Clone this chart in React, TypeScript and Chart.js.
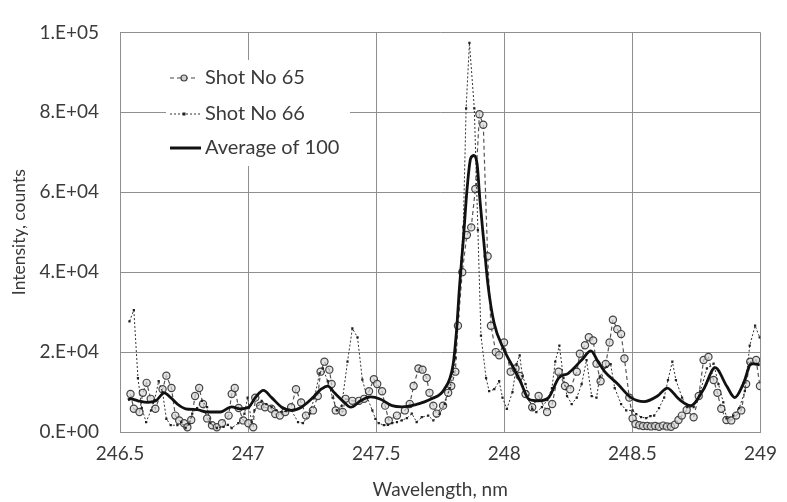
import React, { useEffect, useRef } from "react";
import { Chart, registerables } from "chart.js";

Chart.register(...registerables);

// ---- Data ----
const shot65Wavelength = [
  246.541, 246.554, 246.576, 246.589, 246.604, 246.620, 246.638, 246.666, 246.681, 246.701,
  246.716, 246.731, 246.750, 246.763, 246.778, 246.793, 246.809, 246.824, 246.840, 246.859,
  246.878, 246.898, 246.924, 246.936, 246.948, 246.963, 246.981, 247.001, 247.020, 247.028,
  247.047, 247.066, 247.091, 247.106, 247.124, 247.145, 247.168, 247.187, 247.207, 247.226,
  247.253, 247.272, 247.283, 247.298, 247.317, 247.326, 247.342, 247.369, 247.380, 247.407,
  247.433, 247.453, 247.472, 247.491, 247.504, 247.523, 247.535, 247.549, 247.581, 247.612,
  247.631, 247.646, 247.665, 247.681, 247.697, 247.708, 247.723, 247.736, 247.761, 247.781,
  247.793, 247.809, 247.819, 247.836, 247.854, 247.871, 247.887, 247.903, 247.918, 247.935,
  247.948, 247.967, 247.980, 247.999, 248.025, 248.044, 248.060, 248.083, 248.109, 248.134,
  248.167, 248.187, 248.212, 248.237, 248.257, 248.283, 248.295, 248.315, 248.330, 248.347,
  248.360, 248.376, 248.396, 248.411, 248.424, 248.441, 248.456, 248.469, 248.488, 248.501,
  248.512, 248.527, 248.542, 248.558, 248.573, 248.589, 248.604, 248.620, 248.635, 248.651,
  248.666, 248.680, 248.693, 248.712, 248.739, 248.759, 248.778, 248.797, 248.817, 248.832,
  248.847, 248.867, 248.886, 248.905, 248.925, 248.944, 248.960, 248.983, 248.998,
];
const shot65Counts = [
  9500, 5800, 5000, 9800, 12300, 8300, 5800, 10700, 14100, 11000,
  4100, 2900, 2200, 1200, 3000, 9000, 11000, 7000, 3400, 1700,
  1200, 2200, 4100, 9500, 11000, 6000, 2900, 2200, 1200, 8600,
  6600, 6200, 5800, 4500, 4100, 5000, 6200, 10700, 7400, 4100,
  5400, 9000, 15100, 17600, 15600, 12000, 5400, 5000, 8300, 7800,
  7800, 8300, 10200, 13200, 12000, 10200, 6600, 2900, 4100, 5400,
  7000, 11500, 15900, 15600, 13500, 9800, 6600, 4600, 6600, 9800,
  11500, 15100, 26600, 40000, 49300, 51200, 60800, 79500, 76900, 44000,
  26600, 20000, 19200, 22400, 15100, 15900, 14000, 9500, 6200, 9000,
  5000, 7000, 15100, 11500, 10700, 15100, 19600, 21700, 23700, 22900,
  17100, 12700, 17000, 22400, 28100, 25700, 24500, 18400, 8600, 3400,
  2000, 1700, 1500, 1500, 1400, 1500, 1300, 1600, 1400, 1300,
  1800, 3000, 4100, 5500, 3700, 9000, 18000, 18800, 13000, 9800,
  5800, 3000, 2900, 4100, 5400, 12000, 17600, 18000, 11500,
];

const shot66Wavelength = [
  246.537, 246.554, 246.570, 246.585, 246.602, 246.621, 246.635, 246.651, 246.666, 246.681,
  246.698, 246.724, 246.739, 246.756, 246.770, 246.782, 246.801, 246.820, 246.840, 246.853,
  246.878, 246.904, 246.921, 246.936, 246.962, 246.986, 246.998, 247.014, 247.025, 247.053,
  247.071, 247.092, 247.110, 247.131, 247.149, 247.169, 247.195, 247.214, 247.240, 247.259,
  247.279, 247.292, 247.311, 247.330, 247.347, 247.365, 247.388, 247.407, 247.427, 247.446,
  247.465, 247.485, 247.497, 247.510, 247.530, 247.546, 247.562, 247.581, 247.600, 247.620,
  247.639, 247.658, 247.678, 247.703, 247.723, 247.748, 247.768, 247.787, 247.800, 247.809,
  247.820, 247.828, 247.840, 247.851, 247.864, 247.883, 247.897, 247.909, 247.929, 247.941,
  247.961, 247.980, 247.993, 248.010, 248.032, 248.048, 248.060, 248.071, 248.083, 248.109,
  248.125, 248.147, 248.168, 248.186, 248.199, 248.215, 248.231, 248.245, 248.263, 248.283,
  248.302, 248.321, 248.341, 248.360, 248.373, 248.399, 248.415, 248.431, 248.456, 248.476,
  248.501, 248.515, 248.534, 248.554, 248.570, 248.585, 248.604, 248.624, 248.639, 248.656,
  248.670, 248.694, 248.714, 248.739, 248.765, 248.791, 248.817, 248.836, 248.855, 248.868,
  248.894, 248.917, 248.939, 248.958, 248.979, 248.997,
];
const shot66Counts = [
  27700, 30500, 13500, 6000, 2500, 5400, 8000, 12700, 10000, 3300,
  1700, 1700, 2500, 1000, 2000, 4600, 6000, 7800, 6200, 2200,
  1000, 1300, 1800, 1000, 2200, 4600, 8600, 2500, 5400, 7800,
  7000, 6200, 5500, 5000, 5200, 5400, 2500, 2200, 4600, 8600,
  14700, 15900, 12700, 8600, 5400, 6500, 17600, 25900, 23700, 13100,
  8600, 5400, 3300, 2200, 1700, 1800, 2200, 2500, 2900, 3500,
  4600, 2500, 3700, 4100, 2900, 4600, 7000, 11000, 15100, 18500,
  29000, 40000, 51300, 81000, 97400, 81000, 50500, 24100, 13500, 10200,
  10700, 12700, 8600, 5800, 10000, 17000, 19200, 14000, 12000, 5800,
  5000, 6200, 8000, 11000, 17600, 21600, 13500, 9000, 7000, 8600,
  12000, 18000, 9000, 8600, 13900, 16300, 17000, 11000, 7000, 5400,
  5400, 4500, 3700, 3500, 4000, 4100, 6000, 8600, 13000, 17600,
  13000, 8600, 6200, 6200, 10200, 15900, 17100, 12000, 7400, 3400,
  4100, 6000, 10200, 21600, 26600, 23700,
];

const avgWavelength = [
  246.531, 246.541, 246.570, 246.608, 246.640, 246.673, 246.698, 246.724, 246.756, 246.801,
  246.840, 246.891, 246.936, 246.968, 247.002, 247.028, 247.060, 247.092, 247.131, 247.169,
  247.208, 247.253, 247.285, 247.311, 247.337, 247.369, 247.401, 247.439, 247.478, 247.517,
  247.562, 247.600, 247.651, 247.716, 247.766, 247.800, 247.813, 247.826, 247.840, 247.855,
  247.869, 247.882, 247.894, 247.905, 247.921, 247.936, 247.960, 247.998, 248.037, 248.064,
  248.096, 248.134, 248.173, 248.212, 248.250, 248.302, 248.338, 248.366, 248.392, 248.443,
  248.495, 248.546, 248.598, 248.636, 248.682, 248.727, 248.778, 248.823, 248.868, 248.900,
  248.932, 248.965, 248.997,
];
const avgCounts = [
  8000, 8300, 7800, 7400, 7800, 9800, 8600, 7000, 5800, 5600,
  5000, 5000, 6300, 5800, 6200, 8600, 10400, 8600, 6200, 5400,
  6200, 8600, 10700, 11500, 9800, 7800, 6200, 7800, 8800, 8200,
  6600, 6300, 6800, 8300, 10700, 16800, 24900, 37000, 48000, 61000,
  68500, 69200, 67000, 58000, 47000, 37000, 27300, 20700, 15900, 12500,
  8200, 7800, 8600, 13500, 14700, 18000, 20300, 17600, 15100, 12000,
  8600, 7600, 9000, 11000, 8200, 6600, 10700, 16100, 11500, 8600,
  11900, 17100, 16800,
];

const seriesNames = ["Shot No 65", "Shot No 66", "Average of 100"];
const xTickLabels = ["246.5", "247", "247.5", "248", "248.5", "249"];
const yTickLabels = ["0.E+00", "2.E+04", "4.E+04", "6.E+04", "8.E+04", "1.E+05"];
const xTitle = "Wavelength, nm";
const yTitle = "Intensity, counts";

const FONT = "Lato, 'Open Sans', sans-serif";
const TEXT = "#3a3a3a";
const GRID = "#8f8f8f";

const toPoints = (xs: number[], ys: number[]) => xs.map((x, i) => ({ x, y: ys[i] }));

const legendPlugin = {
  id: "insetLegend",
  afterDatasetsDraw(chart: any) {
    const ctx = chart.ctx as CanvasRenderingContext2D;
    const x0 = 166, y0 = 60, w = 184, h = 106;
    ctx.save();
    ctx.fillStyle = "#ffffff";
    ctx.fillRect(x0, y0, w, h);
    const rows = [78, 114, 148];
    ctx.font = `20px ${FONT}`;
    ctx.textBaseline = "middle";
    ctx.textAlign = "left";
    // Shot 65 sample
    ctx.strokeStyle = "#444";
    ctx.lineWidth = 1.2;
    ctx.setLineDash([4, 3]);
    ctx.beginPath();
    ctx.moveTo(170, rows[0]);
    ctx.lineTo(198, rows[0]);
    ctx.stroke();
    ctx.setLineDash([]);
    ctx.beginPath();
    ctx.arc(184, rows[0], 3, 0, Math.PI * 2);
    ctx.fillStyle = "#d0d0d0";
    ctx.fill();
    ctx.stroke();
    // Shot 66 sample
    ctx.strokeStyle = "#333";
    ctx.lineWidth = 1;
    ctx.setLineDash([2, 2]);
    ctx.beginPath();
    ctx.moveTo(170, rows[1]);
    ctx.lineTo(200, rows[1]);
    ctx.stroke();
    ctx.setLineDash([]);
    ctx.fillStyle = "#222";
    ctx.fillRect(182.5, rows[1] - 1.5, 3, 3);
    // Average sample
    ctx.strokeStyle = "#111";
    ctx.lineWidth = 3;
    ctx.beginPath();
    ctx.moveTo(170, rows[2]);
    ctx.lineTo(201, rows[2]);
    ctx.stroke();
    ctx.fillStyle = TEXT;
    seriesNames.forEach((n, i) => ctx.fillText(n, 205, rows[i]));
    ctx.restore();
  },
};

export default function App() {
  const ref = useRef<HTMLCanvasElement | null>(null);
  useEffect(() => {
    if (!ref.current) return;
    const chart = new Chart(ref.current, {
      type: "line",
      data: {
        datasets: [
          {
            label: seriesNames[0],
            data: toPoints(shot65Wavelength, shot65Counts),
            borderColor: "#555",
            borderWidth: 1.2,
            borderDash: [4, 3],
            pointStyle: "circle",
            pointRadius: 3.6,
            pointBorderWidth: 1.2,
            pointBorderColor: "#444",
            pointBackgroundColor: "rgba(215,215,215,0.7)",
            tension: 0,
            order: 2,
          },
          {
            label: seriesNames[1],
            data: toPoints(shot66Wavelength, shot66Counts),
            borderColor: "#333",
            borderWidth: 1,
            borderDash: [2, 2],
            pointStyle: "rect",
            pointRadius: 1.6,
            pointBorderWidth: 0,
            pointBackgroundColor: "#222",
            tension: 0,
            order: 1,
          },
          {
            label: seriesNames[2],
            data: toPoints(avgWavelength, avgCounts),
            borderColor: "#111",
            borderWidth: 2.8,
            pointRadius: 0,
            cubicInterpolationMode: "monotone",
            order: 0,
          },
        ],
      },
      options: {
        animation: false,
        responsive: false,
        maintainAspectRatio: false,
        layout: { padding: { top: 22, right: 20, left: 0, bottom: 0 } },
        plugins: { legend: { display: false }, tooltip: { enabled: false } },
        scales: {
          x: {
            type: "linear",
            min: 246.5,
            max: 249,
            afterFit: (s: any) => { s.height = 70; },
            ticks: {
              stepSize: 0.5,
              padding: 10,
              color: TEXT,
              font: { family: FONT, size: 19 },
              maxRotation: 0,
              callback: (_v: any, i: number) => xTickLabels[i],
            },
            grid: { color: GRID, lineWidth: 1, drawTicks: false },
            border: { color: GRID },
            title: {
              display: true,
              text: xTitle,
              color: TEXT,
              font: { family: FONT, size: 19 },
              padding: { top: 0, bottom: 1 },
            },
          },
          y: {
            type: "linear",
            min: 0,
            max: 100000,
            afterFit: (s: any) => { s.width = 120; },
            ticks: {
              stepSize: 20000,
              padding: 21,
              color: TEXT,
              font: { family: FONT, size: 19 },
              callback: (_v: any, i: number) => yTickLabels[i],
            },
            grid: { color: GRID, lineWidth: 1, drawTicks: false },
            border: { color: GRID },
            title: {
              display: true,
              text: yTitle,
              color: TEXT,
              font: { family: FONT, size: 17.5 },
              padding: { top: 9, bottom: 0 },
            },
          },
        },
      },
      plugins: [legendPlugin],
    } as any);
    return () => chart.destroy();
  }, []);
  return (
    <div style={{ position: "fixed", left: 0, top: 0, width: 787, height: 502, background: "#fff" }}>
      <canvas ref={ref} width={787} height={502} />
    </div>
  );
}
